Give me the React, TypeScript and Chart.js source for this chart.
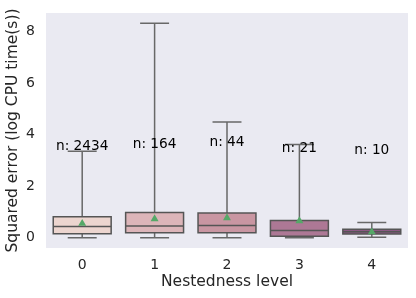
import React, { useEffect, useRef } from "react";
import { Chart, registerables } from "chart.js";

Chart.register(...registerables);

const categories = ["0", "1", "2", "3", "4"];
const whiskerLow = [0.0, 0.0, 0.0, 0.0, 0.02];
const q1 = [0.15, 0.19, 0.19, 0.06, 0.14];
const medians = [0.43, 0.45, 0.47, 0.28, 0.23];
const q3 = [0.81, 0.98, 0.96, 0.67, 0.33];
const whiskerHigh = [3.35, 8.32, 4.49, 3.62, 0.59];
const means = [0.55, 0.73, 0.77, 0.65, 0.22];
const counts = ["n: 2434", "n: 164", "n: 44", "n: 21", "n: 10"];
const countY = [3.56, 3.63, 3.68, 3.45, 3.4];
const yTicks = [0, 2, 4, 6, 8];
const boxColors = ["#ecd5cf", "#dcb5b9", "#c996a2", "#ad7895", "#8b5983"];

const FONT = "'DejaVu Sans', sans-serif";

export default function App() {
  const ref = useRef<HTMLCanvasElement>(null);

  useEffect(() => {
    document.body.style.margin = "0";
    const canvas = ref.current;
    if (!canvas) return;

    const bgPlugin = {
      id: "bg",
      beforeDraw(chart: any) {
        const { ctx, chartArea } = chart;
        ctx.save();
        ctx.fillStyle = "#eaeaf2";
        ctx.fillRect(chartArea.left, chartArea.top, chartArea.right - chartArea.left, chartArea.bottom - chartArea.top);
        ctx.restore();
      },
    };

    const boxPlugin = {
      id: "boxparts",
      afterDatasetDraw(chart: any, args: any) {
        if (args.meta.type !== "bar") return;
        const { ctx } = chart;
        const xs = chart.scales.x;
        const ys = chart.scales.y;
        ctx.save();
        ctx.lineCap = "butt";
        args.meta.data.forEach((bar: any, i: number) => {
          const cx = xs.getPixelForValue(i);
          const half = bar.width / 2;
          const capHalf = half / 2;
          const yq1 = ys.getPixelForValue(q1[i]);
          const yq3 = ys.getPixelForValue(q3[i]);
          const ylo = ys.getPixelForValue(whiskerLow[i]);
          const yhi = ys.getPixelForValue(whiskerHigh[i]);
          const ymed = ys.getPixelForValue(medians[i]);
          ctx.strokeStyle = "#686868";
          ctx.lineWidth = 1.5;
          ctx.beginPath();
          ctx.moveTo(cx, yq3);
          ctx.lineTo(cx, yhi);
          ctx.moveTo(cx - capHalf, yhi);
          ctx.lineTo(cx + capHalf, yhi);
          ctx.moveTo(cx, yq1);
          ctx.lineTo(cx, ylo);
          ctx.moveTo(cx - capHalf, ylo);
          ctx.lineTo(cx + capHalf, ylo);
          ctx.stroke();
          ctx.strokeStyle = "#555555";
          ctx.beginPath();
          ctx.rect(cx - half, yq3, 2 * half, yq1 - yq3);
          ctx.moveTo(cx - half, ymed);
          ctx.lineTo(cx + half, ymed);
          ctx.stroke();
        });
        ctx.restore();
      },
      afterDatasetsDraw(chart: any) {
        const { ctx } = chart;
        const xs = chart.scales.x;
        const ys = chart.scales.y;
        ctx.save();
        ctx.font = `13.7px ${FONT}`;
        ctx.fillStyle = "#000000";
        ctx.textAlign = "center";
        ctx.textBaseline = "middle";
        counts.forEach((t, i) => {
          ctx.fillText(t, xs.getPixelForValue(i), ys.getPixelForValue(countY[i]));
        });
        ctx.restore();
      },
    };

    const chart = new Chart(canvas, {
      type: "bar",
      data: {
        labels: categories,
        datasets: [
          {
            type: "bar",
            data: q1.map((v, i) => [v, q3[i]]) as any,
            backgroundColor: boxColors,
            borderWidth: 0,
            borderSkipped: false,
            barPercentage: 0.8,
            categoryPercentage: 1,
            order: 2,
          },
          {
            type: "line",
            data: means,
            showLine: false,
            pointStyle: "triangle",
            pointRadius: 4.6,
            pointBackgroundColor: "#55a868",
            pointBorderColor: "#55a868",
            pointBorderWidth: 0,
            order: 1,
          } as any,
        ],
      },
      options: {
        animation: false,
        responsive: false,
        layout: { padding: { top: 13, right: 8, left: 0, bottom: 0 } },
        plugins: { legend: { display: false }, tooltip: { enabled: false } },
        scales: {
          x: {
            grid: { display: false, drawTicks: false },
            border: { display: false },
            ticks: { color: "#262626", font: { family: FONT, size: 14 }, padding: 9 },
            title: {
              display: true,
              text: "Nestedness level",
              color: "#262626",
              font: { family: FONT, size: 15.5 },
              padding: { top: 0, bottom: 7 },
            },
            afterFit(scale: any) {
              scale.height = 50;
              scale.paddingLeft = 0;
              scale.paddingRight = 0;
            },
          },
          y: {
            min: -0.4,
            max: 8.72,
            grid: { display: false, drawTicks: false },
            border: { display: false },
            ticks: { color: "#262626", font: { family: FONT, size: 14 }, padding: 11 },
            afterBuildTicks(scale: any) {
              scale.ticks = yTicks.map((v) => ({ value: v }));
            },
            title: {
              display: true,
              text: "Squared error (log CPU time(s))",
              color: "#262626",
              font: { family: FONT, size: 15.5 },
              padding: { top: 4, bottom: 4 },
            },
            afterFit(scale: any) {
              scale.width = 46;
              scale.paddingTop = 0;
              scale.paddingBottom = 0;
            },
          },
        },
      },
      plugins: [bgPlugin, boxPlugin],
    });

    return () => chart.destroy();
  }, []);

  return (
    <div style={{ width: 416, height: 298 }}>
      <canvas ref={ref} width={416} height={298} />
    </div>
  );
}
